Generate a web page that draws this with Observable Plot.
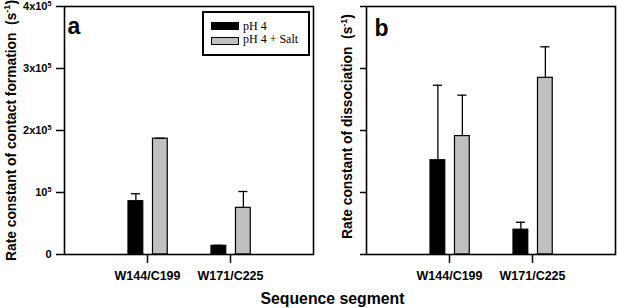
<!DOCTYPE html>
<html>
<head>
<meta charset="utf-8">
<script src="https://cdn.jsdelivr.net/npm/d3@7"></script>
<script src="https://cdn.jsdelivr.net/npm/@observablehq/plot@0.6"></script>
<style>
  html, body { margin: 0; padding: 0; background: #fff; }
  #wrap { position: relative; width: 617px; height: 308px; overflow: hidden; font-family: "Liberation Sans", Arial, sans-serif; }
  #panelA { position: absolute; left: 0; top: 0; }
  #panelB { position: absolute; left: 316px; top: 0; }
  #xtitle { position: absolute; left: 24px; top: 290.5px; width: 617px; text-align: center; font: bold 15.8px/1 "Liberation Sans", Arial, sans-serif; color: #000; white-space: nowrap; }
  #legend { position: absolute; left: 202px; top: 11px; width: 104px; height: 41px; border: 2px solid #000; background: #fff; font: 12px/1 "Liberation Serif", "Times New Roman", serif; color: #000; }
  #legend .sw { position: absolute; left: 7px; width: 28px; height: 8px; box-sizing: border-box; border: 1px solid #000; }
  #legend .lb { position: absolute; left: 39px; white-space: nowrap; }
</style>
</head>
<body>
<div id="wrap">
  <div id="panelA"></div>
  <div id="panelB"></div>
  <div id="legend"></div>
  <div id="xtitle">Sequence segment</div>
</div>
<script>
// ---- data ----
const categories = ["W144/C199", "W171/C225"];
const series = ["pH 4", "pH 4 + Salt"];
const seriesColors = ["#000000", "#c0c0c0"];

// panel a: rate constant of contact formation (s^-1)
const formationPH4 = [86000, 14000];
const formationPH4Err = [12000, 800];
const formationSalt = [186800, 75300];
const formationSaltErr = [600, 26300];
const formationTicks = [0, 100000, 200000, 300000, 400000];
const formationTickLabels = ["0", "10^{5}", "2x10^{5}", "3x10^{5}", "4x10^{5}"];

// panel b: rate constant of dissociation (axis unlabeled in the original)
const dissociationPH4 = [1.52, 0.40];
const dissociationPH4Err = [1.21, 0.12];
const dissociationSalt = [1.91, 2.85];
const dissociationSaltErr = [0.66, 0.50];
const dissociationTicks = [0, 1, 2, 3, 4];

const titleA = "Rate constant of contact formation \u00a0(s^{-1})";
const titleB = "Rate constant of dissociation \u00a0(s^{-1})";
const xTitle = "Sequence segment";

// ---- layout helpers ----
const seriesOffset = [-0.14, 0.155];
const barHalf = 0.089;
const capHalf = 0.055;

function buildRows(ph4, ph4Err, salt, saltErr) {
  const vals = [ph4, salt], errs = [ph4Err, saltErr];
  return categories.flatMap((c, i) => series.map((s, j) => ({
    category: c, series: s, pos: i + 1 + seriesOffset[j], value: vals[j][i], err: errs[j][i]
  })));
}

function panel(o) {
  return Plot.plot({
    width: o.width, height: 308,
    marginLeft: o.marginLeft, marginRight: o.marginRight, marginTop: 6, marginBottom: 54,
    style: { fontFamily: "'Liberation Sans', Arial, sans-serif", fontWeight: "bold", color: "black", background: "transparent", overflow: "visible" },
    x: { domain: [0, 3] },
    y: { domain: o.yDomain },
    color: { domain: series, range: seriesColors },
    marks: [
      Plot.rect(o.rows, { x1: d => d.pos - barHalf, x2: d => d.pos + barHalf, y1: 0, y2: "value", fill: "series", stroke: "black", strokeWidth: 1.2 }),
      Plot.ruleX(o.rows, { x: "pos", y1: "value", y2: d => d.value + d.err, stroke: "black", strokeWidth: 1.3 }),
      Plot.ruleY(o.rows, { x1: d => d.pos - capHalf, x2: d => d.pos + capHalf, y: d => d.value + d.err, stroke: "black", strokeWidth: 1.3 }),
      Plot.frame({ stroke: "black", strokeWidth: 1.6 }),
      Plot.axisX({ ticks: [1, 2], tickFormat: d => categories[d - 1], tickSize: 9, tickPadding: 8, fontSize: 12.5, fontWeight: "bold", strokeWidth: 1.5, label: null }),
      Plot.axisY({ ticks: o.ticks, tickFormat: o.tickFormat, tickSize: o.tickSize, tickPadding: 5, fontSize: 11, fontWeight: "bold", strokeWidth: 1.5, label: null }),
      Plot.text([o.title], { text: d => d, frameAnchor: "left", rotate: -90, lineAnchor: "bottom", textAnchor: "middle", dx: o.titleDx, dy: o.titleDy, fontSize: 13.8, fontWeight: "bold" }),
      Plot.text([o.tag], { text: d => d, frameAnchor: "top-left", textAnchor: "start", lineAnchor: "bottom", dx: o.tagDx, dy: o.tagDy, fontSize: 23, fontWeight: "bold" })
    ]
  });
}

function superscripts(svg) {
  d3.select(svg).selectAll("text").each(function () {
    const el = this;
    const s = el.textContent;
    if (!s.includes("^{")) return;
    const fs = parseFloat(getComputedStyle(el).fontSize) || 11;
    const shift = 0.4 * fs;
    const parts = s.split(/\^\{([^}]*)\}/);
    while (el.firstChild) el.removeChild(el.firstChild);
    el.style.whiteSpace = "pre";
    let prevSup = false;
    parts.forEach((p, k) => {
      if (p === "") { if (k % 2 === 1) prevSup = true; return; }
      const t = document.createElementNS("http://www.w3.org/2000/svg", "tspan");
      t.textContent = p;
      if (k % 2 === 1) {
        t.setAttribute("font-size", (0.65 * fs).toFixed(1));
        t.setAttribute("dy", (-shift).toFixed(1));
        prevSup = true;
      } else {
        if (prevSup) t.setAttribute("dy", shift.toFixed(1));
        prevSup = false;
      }
      el.appendChild(t);
    });
  });
}

const svgA = panel({
  rows: buildRows(formationPH4, formationPH4Err, formationSalt, formationSaltErr),
  width: 316, marginLeft: 64, marginRight: 3,
  yDomain: [0, 400000], ticks: formationTicks,
  tickFormat: d => formationTickLabels[formationTicks.indexOf(d)],
  tickSize: 8, title: titleA, titleDx: -49, titleDy: 0,
  tag: "a", tagDx: 3, tagDy: 27
});
const svgB = panel({
  rows: buildRows(dissociationPH4, dissociationPH4Err, dissociationSalt, dissociationSaltErr),
  width: 301, marginLeft: 50, marginRight: 2,
  yDomain: [0, 4], ticks: dissociationTicks,
  tickFormat: () => "",
  tickSize: 6, title: titleB, titleDx: -14.3, titleDy: -4,
  tag: "b", tagDx: 8, tagDy: 29
});
document.getElementById("panelA").appendChild(svgA);
document.getElementById("panelB").appendChild(svgB);
superscripts(svgA);
superscripts(svgB);

document.getElementById("xtitle").textContent = xTitle;

// legend
const legend = document.getElementById("legend");
const swTops = [9, 24], lbTops = [7, 20.3];
series.forEach((s, i) => {
  const sw = document.createElement("div");
  sw.className = "sw";
  sw.style.top = swTops[i] + "px";
  sw.style.background = seriesColors[i];
  legend.appendChild(sw);
  const lb = document.createElement("div");
  lb.className = "lb";
  lb.style.top = lbTops[i] + "px";
  lb.textContent = s;
  legend.appendChild(lb);
});
</script>
</body>
</html>
